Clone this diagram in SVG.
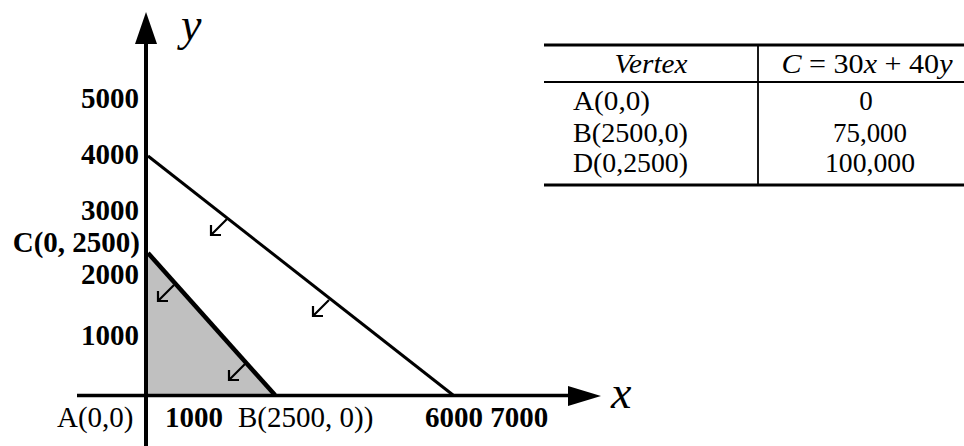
<svg xmlns="http://www.w3.org/2000/svg" width="964" height="446" viewBox="0 0 964 446">
<style>
.lbl{font-family:"Liberation Serif","Times New Roman",serif;font-size:29px;fill:#000}
.b{font-weight:bold}
.tb{font-family:"Liberation Serif","Times New Roman",serif;font-size:27px;fill:#000}
.it{font-style:italic}
.ax{font-family:"Liberation Serif","Times New Roman",serif;font-style:italic;font-size:46px;fill:#000}
.sa{fill:none;stroke:#000;stroke-width:2.2}
</style>
<defs>
<path id="sarr" class="sa" d="M0,0 L-15,15 M-16,6 L-16,16 L-6,16"/>
</defs>
<rect width="964" height="446" fill="#fff"/>
<g id="region">
<polygon points="148,253 148,395 275,395" fill="#c0c0c0"/>
</g>
<g id="axes">
<line x1="146" y1="40" x2="146" y2="446" stroke="#000" stroke-width="4"/>
<polygon points="146,12 135,44 157,44" fill="#000"/>
<line x1="77" y1="395.5" x2="572" y2="395.5" stroke="#000" stroke-width="3.5"/>
<polygon points="601,396 568,386 568,406" fill="#000"/>
<text class="ax" x="181" y="40">y</text>
<text class="ax" x="611" y="408">x</text>
</g>
<g id="lines">
<line x1="148" y1="156" x2="453" y2="395" stroke="#000" stroke-width="3"/>
<line x1="148" y1="253" x2="275" y2="395" stroke="#000" stroke-width="4.5"/>
<use href="#sarr" x="227" y="219"/>
<use href="#sarr" x="329" y="300"/>
<use href="#sarr" x="174" y="285"/>
<use href="#sarr" x="245" y="364"/>
</g>
<g id="ylabels" text-anchor="end">
<text class="lbl b" x="139" y="108">5000</text>
<text class="lbl b" x="139" y="164">4000</text>
<text class="lbl b" x="139" y="220">3000</text>
<text class="lbl b" x="140" y="252">C(0, 2500)</text>
<text class="lbl b" x="139" y="284">2000</text>
<text class="lbl b" x="139" y="345">1000</text>
</g>
<g id="xlabels">
<text class="lbl" x="57" y="427">A(0,0)</text>
<text class="lbl b" x="165" y="427">1000</text>
<text class="lbl" x="238" y="427">B(2500, 0))</text>
<text class="lbl b" x="425" y="427">6000 7000</text>
</g>
<g id="table">
<line x1="544" y1="45" x2="964" y2="45" stroke="#000" stroke-width="3"/>
<line x1="544" y1="82" x2="964" y2="82" stroke="#000" stroke-width="1.8"/>
<line x1="544" y1="185" x2="964" y2="185" stroke="#000" stroke-width="3"/>
<line x1="758" y1="45" x2="758" y2="185" stroke="#000" stroke-width="1.8"/>
<text class="tb it" x="651" y="73" text-anchor="middle" textLength="73" lengthAdjust="spacingAndGlyphs">Vertex</text>
<text class="tb" x="867" y="73" text-anchor="middle" textLength="171" lengthAdjust="spacingAndGlyphs"><tspan class="it">C</tspan> = 30<tspan class="it">x</tspan> + 40<tspan class="it">y</tspan></text>
<text class="tb" x="573" y="110" textLength="77" lengthAdjust="spacingAndGlyphs">A(0,0)</text>
<text class="tb" x="573" y="141.5" textLength="115" lengthAdjust="spacingAndGlyphs">B(2500,0)</text>
<text class="tb" x="573" y="172" textLength="115" lengthAdjust="spacingAndGlyphs">D(0,2500)</text>
<text class="tb" x="866" y="110" text-anchor="middle">0</text>
<text class="tb" x="870" y="141.5" text-anchor="middle" textLength="74" lengthAdjust="spacingAndGlyphs">75,000</text>
<text class="tb" x="870" y="172" text-anchor="middle" textLength="90" lengthAdjust="spacingAndGlyphs">100,000</text>
</g>
</svg>
